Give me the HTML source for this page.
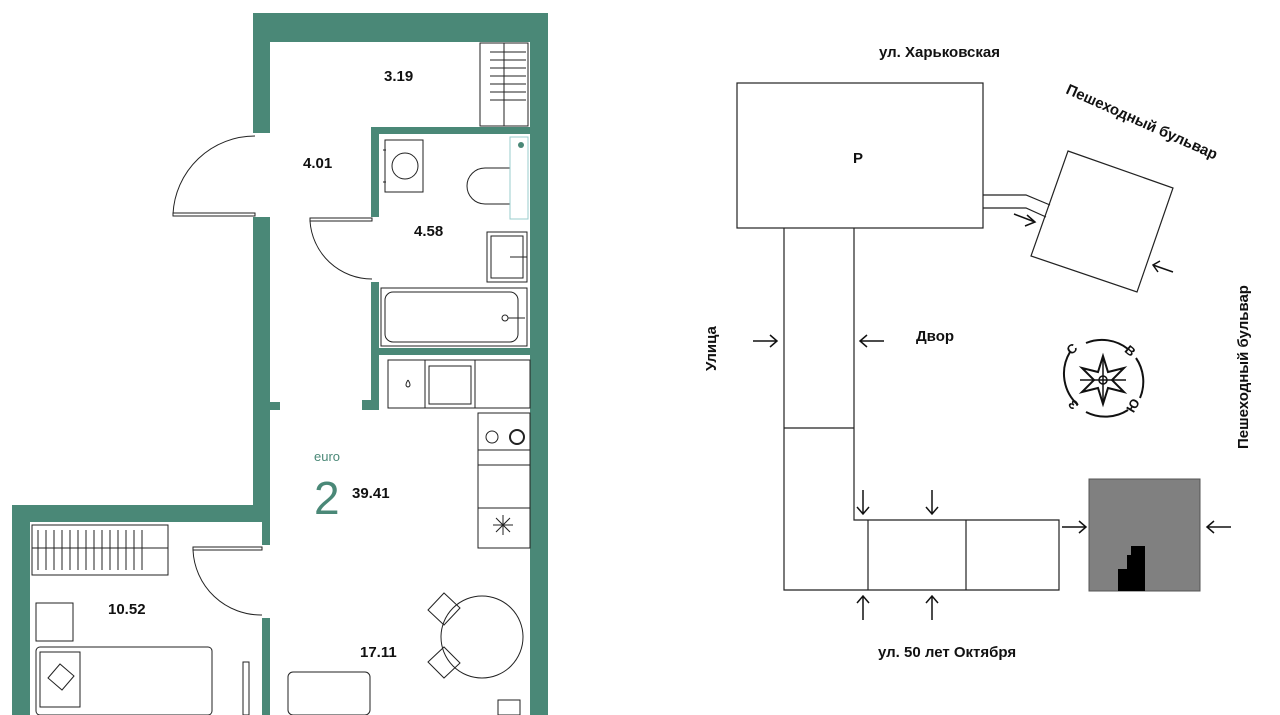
<!DOCTYPE html>
<html><head><meta charset="utf-8"><style>
html,body{margin:0;padding:0;background:#fff;}
svg{display:block;font-family:"Liberation Sans","DejaVu Sans",sans-serif;}
</style></head><body>
<svg width="1280" height="715" viewBox="0 0 1280 715" xmlns="http://www.w3.org/2000/svg">
<g fill="#4a8877">
<rect x="253" y="13" width="295" height="29"/>
<rect x="253" y="13" width="17" height="120"/>
<rect x="253" y="217" width="17" height="305"/>
<rect x="12" y="505" width="258" height="17"/>
<rect x="12" y="505" width="18" height="210"/>
<rect x="262" y="505" width="8" height="40"/>
<rect x="262" y="618" width="8" height="97"/>
<rect x="270" y="402" width="10" height="8"/>
<rect x="530" y="13" width="18" height="702"/>
<rect x="371" y="127" width="159" height="7"/>
<rect x="371" y="127" width="8" height="90"/>
<rect x="371" y="282" width="8" height="128"/>
<rect x="371" y="348" width="159" height="7"/>
<rect x="362" y="400" width="17" height="10"/>
</g>
<g fill="none" stroke="#222" stroke-width="1">
<path d="M255 136 A82 82 0 0 0 173 214"/>
<rect x="173" y="213" width="82" height="3"/>
<path d="M310 221 A62 62 0 0 0 372 279"/>
<rect x="310" y="218" width="62" height="3"/>
<path d="M193 550 A68 68 0 0 0 262 615"/>
<rect x="193" y="547" width="69" height="3"/>
<!-- radiator top -->
<rect x="480" y="43" width="48" height="83"/>
<line x1="504" y1="43" x2="504" y2="126"/>
<path d="M490 52 h36 M490 60 h36 M490 68 h36 M490 76 h36 M490 84 h36 M490 92 h36 M490 100 h36"/>
<!-- washer -->
<rect x="385" y="140" width="38" height="52"/>
<circle cx="405" cy="166" r="13"/>
<path d="M383 150 h3 M383 182 h3"/>
<!-- toilet -->
<path d="M510 168 h-25 a18 18 0 0 0 0 36 h25"/>
<rect x="510" y="137" width="18" height="82" stroke="#9cc"/>
<circle cx="521" cy="145" r="3" fill="#4a8877" stroke="none"/>
<!-- sink -->
<rect x="487" y="232" width="40" height="50"/>
<rect x="491" y="236" width="32" height="42"/>
<line x1="510" y1="257" x2="527" y2="257"/>
<!-- bath -->
<rect x="381" y="288" width="146" height="58"/>
<rect x="385" y="292" width="133" height="50" rx="8"/>
<circle cx="505" cy="318" r="3"/>
<line x1="508" y1="318" x2="525" y2="318"/>
<!-- kitchen -->
<rect x="388" y="360" width="142" height="48"/>
<line x1="425" y1="360" x2="425" y2="408"/>
<line x1="475" y1="360" x2="475" y2="408"/>
<rect x="429" y="366" width="42" height="38"/>
<rect x="478" y="413" width="52" height="135"/>
<line x1="478" y1="450" x2="530" y2="450"/>
<line x1="478" y1="465" x2="530" y2="465"/>
<line x1="478" y1="508" x2="530" y2="508"/>
<circle cx="492" cy="437" r="6"/>
<circle cx="517" cy="437" r="7" stroke-width="2"/>
<path d="M493 525 h20 M503 515 v20 M496 518 l14 14 M510 518 l-14 14"/>
<path d="M408 380 q-4 6 0 7 q4 -1 0 -7"/>
<!-- table -->
<circle cx="482" cy="637" r="41"/>
<path d="M428 610 l16 -17 l16 15 l-16 17z M428 662 l16 -15 l16 16 l-16 15z"/>
<!-- wardrobe -->
<rect x="32" y="525" width="136" height="50"/>
<line x1="32" y1="548" x2="168" y2="548"/>
<path d="M38 530 v40 M46 530 v40 M54 530 v40 M62 530 v40 M70 530 v40 M78 530 v40 M86 530 v40 M94 530 v40 M102 530 v40 M110 530 v40 M118 530 v40 M126 530 v40 M134 530 v40 M142 530 v40"/>
<rect x="36" y="603" width="37" height="38"/>
<rect x="36" y="647" width="176" height="68" rx="4"/>
<rect x="40" y="652" width="40" height="55"/>
<path d="M48 678 l12 -14 l14 12 l-12 14z"/>
<rect x="243" y="662" width="6" height="53"/>
<rect x="288" y="672" width="82" height="43" rx="5"/>
<rect x="498" y="700" width="22" height="15"/>
</g>
<g font-size="15" font-weight="bold" fill="#111">
<text x="384" y="81">3.19</text>
<text x="303" y="168">4.01</text>
<text x="414" y="236">4.58</text>
<text x="352" y="498">39.41</text>
<text x="108" y="614">10.52</text>
<text x="360" y="657">17.11</text>
</g>
<text x="314" y="461" font-size="13" fill="#4a8877">euro</text>
<text x="314" y="514" font-size="46" fill="#4a8877">2</text>

<!-- site plan -->
<g fill="none" stroke="#222" stroke-width="1.2">
<rect x="737" y="83" width="246" height="145"/>
<path d="M784 228 V590 H1059 V520 H854 V228"/>
<line x1="784" y1="428" x2="854" y2="428"/>
<line x1="868" y1="520" x2="868" y2="590"/>
<line x1="966" y1="520" x2="966" y2="590"/>
<polygon points="1068,151 1173,188 1137,292 1031,256"/>
<path d="M983 195 H1026 L1050 205 M983 208 H1026 L1046 217"/>
</g>
<rect x="1089" y="479" width="111" height="112" fill="#808080" stroke="#555"/>
<path d="M1118 591 V569 H1127 V555 H1131 V546 H1145 V591z" fill="#000"/>
<g fill="none" stroke="#111" stroke-width="1.5">
<path d="M753 341 H776 M770 335 L777 341 L770 347"/>
<path d="M884 341 H861 M867 335 L860 341 L867 347"/>
<path d="M863 490 V514 M857 507 L863 514 L869 507"/>
<path d="M932 490 V514 M926 507 L932 514 L938 507"/>
<path d="M863 620 V596 M857 603 L863 596 L869 603"/>
<path d="M932 620 V596 M926 603 L932 596 L938 603"/>
<path d="M1062 527 H1085 M1079 521 L1086 527 L1079 533"/>
<path d="M1231 527 H1208 M1214 521 L1207 527 L1214 533"/>
<path d="M1014 214 L1035 222 M1027 215 L1035 222 L1025 226"/>
<path d="M1173 272 L1153 265 M1160 261 L1153 265 L1158 272"/>
<path d="M1070 352 A42 42 0 0 0 1078 405 M1086 412 A42 42 0 0 0 1128 410 M1140 398 A42 42 0 0 0 1136 358 M1128 349 A42 42 0 0 0 1086 343" stroke-width="2"/>
<polygon points="1103,356 1108,372 1124,368 1112,380 1124,392 1108,388 1103,404 1098,388 1082,392 1094,380 1082,368 1098,372" stroke-width="2"/>
<path d="M1080 380 H1126 M1103 357 V403"/>
<circle cx="1103" cy="380" r="4"/>
</g>
<g font-size="15" font-weight="bold" fill="#111">
<text x="879" y="57">ул. Харьковская</text>
<text x="853" y="163">Р</text>
<text x="916" y="341">Двор</text>
<text x="878" y="657">ул. 50 лет Октября</text>
<text transform="translate(1065,93) rotate(24)">Пешеходный бульвар</text>
<text transform="translate(716,371) rotate(-90)">Улица</text>
<text transform="translate(1248,449) rotate(-90)">Пешеходный бульвар</text>
</g>
<g font-size="13" font-weight="bold" fill="#111">
<text x="1067" y="354" transform="rotate(-40 1071 349)">С</text>
<text x="1126" y="355" transform="rotate(40 1130 350)">В</text>
<text x="1069" y="410" transform="rotate(-130 1073 405)">З</text>
<text x="1128" y="412" transform="rotate(-60 1132 408)">Ю</text>
</g>
</svg>
</body></html>
